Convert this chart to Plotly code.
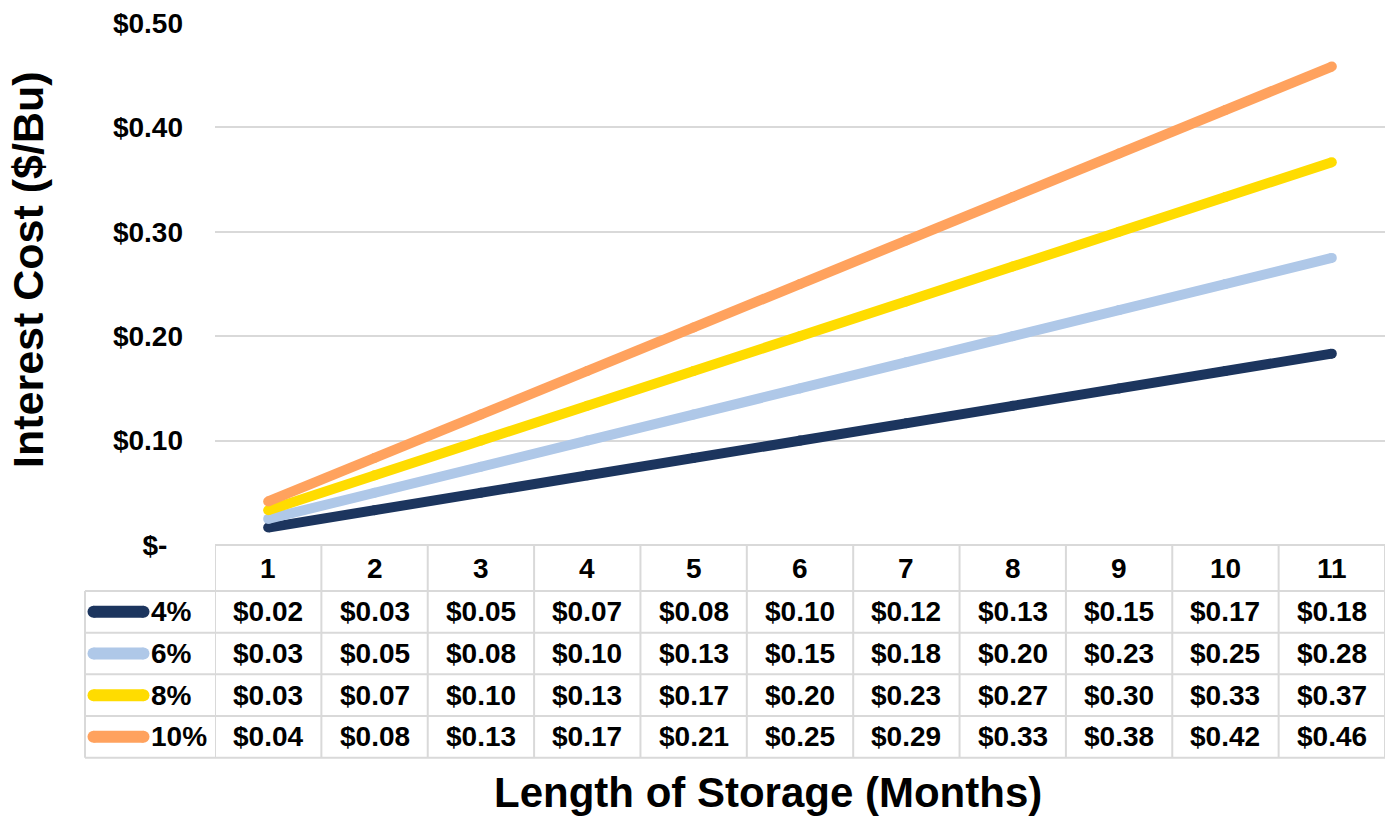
from decimal import Decimal, ROUND_HALF_UP

import plotly.graph_objects as go

# Storage length in months and interest cost per bushel at each annual rate
months = [1, 2, 3, 4, 5, 6, 7, 8, 9, 10, 11]
rate_labels = ["4%", "6%", "8%", "10%"]
cost_4 = [0.0167, 0.0333, 0.05, 0.0667, 0.0833, 0.10, 0.1167, 0.1333, 0.15, 0.1667, 0.1833]
cost_6 = [0.025, 0.05, 0.075, 0.10, 0.125, 0.15, 0.175, 0.20, 0.225, 0.25, 0.275]
cost_8 = [0.0333, 0.0667, 0.10, 0.1333, 0.1667, 0.20, 0.2333, 0.2667, 0.30, 0.3333, 0.3667]
cost_10 = [0.0417, 0.0833, 0.125, 0.1667, 0.2083, 0.25, 0.2917, 0.3333, 0.375, 0.4167, 0.4583]
series = [cost_4, cost_6, cost_8, cost_10]
colors = ["#1C355E", "#AFC8E8", "#FFDC00", "#FFA25E"]

y_ticks = [0, 0.1, 0.2, 0.3, 0.4, 0.5]
y_tick_text = ["$-\u00a0\u00a0", "$0.10", "$0.20", "$0.30", "$0.40", "$0.50"]

W, H = 1388, 821
FONT = "Liberation Sans, Arial, sans-serif"
GRID = "#D9D9D9"

# plot area and data-table geometry (pixels)
PL, PR, PT, PB = 215, 1385, 23, 545
TABLE_LEFT = 85
row_edges = [545, 591, 632.7, 674.3, 716, 757.7]


def fx(px):
    return px / W


def fy(py):
    return (H - py) / H


def money(v):
    return "$" + str(Decimal(str(v)).quantize(Decimal("0.01"), rounding=ROUND_HALF_UP))


fig = go.Figure()

for vals, color, name in zip(series, colors, rate_labels):
    fig.add_trace(go.Scatter(
        x=months, y=vals, name=name, mode="lines+markers",
        line=dict(color=color, width=10),
        marker=dict(color=color, size=10, line=dict(width=0)),
        showlegend=False, hoverinfo="skip", xaxis="x", yaxis="y",
    ))

# legend keys in the table's first column, on a full-page pixel axis
for i, color in enumerate(colors):
    yc = (row_edges[i + 1] + row_edges[i + 2]) / 2
    fig.add_trace(go.Scatter(
        x=[93.5, 143.5], y=[yc, yc], mode="lines+markers",
        line=dict(color=color, width=12),
        marker=dict(color=color, size=12, line=dict(width=0)),
        showlegend=False, hoverinfo="skip", xaxis="x2", yaxis="y2",
    ))

shapes = []
line_style = dict(color=GRID, width=2)
# horizontal table rules
shapes.append(dict(type="line", xref="paper", yref="paper",
                   x0=fx(PL), x1=fx(PR), y0=fy(row_edges[0]), y1=fy(row_edges[0]), line=line_style))
for py in row_edges[1:]:
    shapes.append(dict(type="line", xref="paper", yref="paper",
                       x0=fx(TABLE_LEFT), x1=fx(PR), y0=fy(py), y1=fy(py), line=line_style))
# vertical table rules
shapes.append(dict(type="line", xref="paper", yref="paper",
                   x0=fx(TABLE_LEFT), x1=fx(TABLE_LEFT), y0=fy(row_edges[1]), y1=fy(row_edges[-1]),
                   line=line_style))
for k in range(len(months) + 1):
    xb = months[0] - 0.5 + k
    shapes.append(dict(type="line", xref="x", yref="paper",
                       x0=xb, x1=xb, y0=fy(row_edges[0]), y1=fy(row_edges[-1]), line=line_style))

annotations = []
cell_font = dict(family=FONT, size=28, color="black")
hc = (row_edges[0] + row_edges[1]) / 2
for m in months:
    annotations.append(dict(x=m, y=fy(hc), xref="x", yref="paper", text=f"<b>{m}</b>",
                            showarrow=False, font=cell_font, xanchor="center", yanchor="middle"))
for i, (vals, name) in enumerate(zip(series, rate_labels)):
    yc = (row_edges[i + 1] + row_edges[i + 2]) / 2
    annotations.append(dict(x=fx(149), y=fy(yc), xref="paper", yref="paper", text=f"<b>{name}</b>",
                            showarrow=False, font=cell_font, xanchor="left", yanchor="middle"))
    for m, v in zip(months, vals):
        annotations.append(dict(x=m, y=fy(yc), xref="x", yref="paper", text=f"<b>{money(v)}</b>",
                                showarrow=False, font=cell_font, xanchor="center", yanchor="middle"))

# axis titles
annotations.append(dict(x=fx(28), y=fy(270), xref="paper", yref="paper",
                        text="<b>Interest Cost ($/Bu)</b>", textangle=-90, showarrow=False,
                        font=dict(family=FONT, size=43, color="black"),
                        xanchor="center", yanchor="middle"))
annotations.append(dict(x=fx(768), y=fy(792), xref="paper", yref="paper",
                        text="<b>Length of Storage (Months)</b>", showarrow=False,
                        font=dict(family=FONT, size=42, color="black"),
                        xanchor="center", yanchor="middle"))

fig.update_layout(
    width=W, height=H,
    margin=dict(l=0, r=0, t=0, b=0, pad=0, autoexpand=False),
    paper_bgcolor="white", plot_bgcolor="rgba(0,0,0,0)",
    xaxis=dict(domain=[fx(PL), fx(PR)], range=[0.5, 11.5], showgrid=False, zeroline=False,
               showticklabels=False, showline=False, anchor="y", fixedrange=True, automargin=False),
    yaxis=dict(domain=[fy(PB), fy(PT)], range=[0, 0.5], tickvals=y_ticks, ticktext=y_tick_text,
               showgrid=True, gridcolor=GRID, gridwidth=2, zeroline=False, showline=False,
               ticks="", ticklabelstandoff=31, anchor="x", automargin=False,
               tickfont=dict(family=FONT, size=28, color="black", weight="bold"), fixedrange=True),
    xaxis2=dict(domain=[0, 1], range=[0, W], visible=False, anchor="y2", fixedrange=True,
                automargin=False),
    yaxis2=dict(domain=[0, 1], range=[H, 0], visible=False, anchor="x2", fixedrange=True,
                automargin=False),
    shapes=shapes,
    annotations=annotations,
)

fig.write_html("out.html")
